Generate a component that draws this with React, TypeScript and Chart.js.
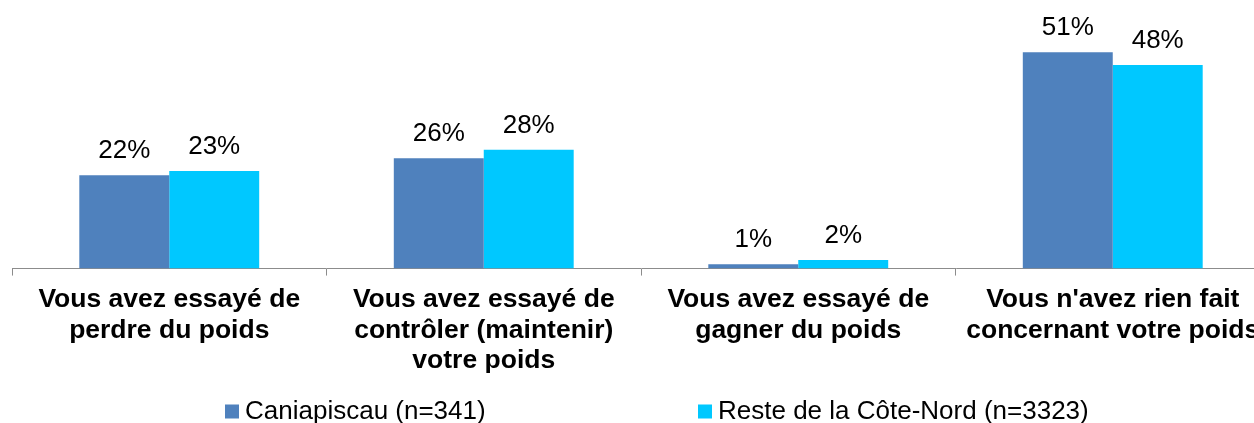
import React, { useEffect, useRef } from 'react';
import { Chart, registerables } from 'chart.js';
Chart.register(...registerables);

const categories: string[][] = [
  ['Vous avez essayé de', 'perdre du poids'],
  ['Vous avez essayé de', 'contrôler (maintenir)', 'votre poids'],
  ['Vous avez essayé de', 'gagner du poids'],
  ["Vous n'avez rien fait", 'concernant votre poids'],
];
const seriesNames = ['Caniapiscau (n=341)', 'Reste de la Côte-Nord (n=3323)'];
const caniapiscau = [22, 26, 1, 51];
const resteCoteNord = [23, 28, 2, 48];
const seriesColors = ['#4F81BD', '#00C8FF'];

const FONT = '"Liberation Sans", Arial, sans-serif';

const valueLabels = {
  id: 'valueLabels',
  afterDatasetsDraw(chart: any) {
    const ctx = chart.ctx;
    ctx.save();
    ctx.font = `26px ${FONT}`;
    ctx.fillStyle = '#000';
    ctx.textAlign = 'center';
    ctx.textBaseline = 'alphabetic';
    chart.data.datasets.forEach((ds: any, i: number) => {
      const meta = chart.getDatasetMeta(i);
      meta.data.forEach((el: any, j: number) => {
        ctx.fillText(ds.data[j] + '%', el.x, el.y - 17);
      });
    });
    ctx.restore();
  },
};

const customLegend = {
  id: 'customLegend',
  afterDraw(chart: any) {
    const ctx = chart.ctx;
    const starts = [225, 698];
    const baseline = 418.5;
    ctx.save();
    ctx.font = `26px ${FONT}`;
    ctx.textBaseline = 'alphabetic';
    ctx.textAlign = 'left';
    chart.data.datasets.forEach((ds: any, i: number) => {
      const x = starts[i];
      ctx.fillStyle = ds.backgroundColor;
      ctx.fillRect(x, baseline - 14, 14, 14);
      ctx.fillStyle = '#000';
      ctx.fillText(ds.label, x + 20, baseline);
    });
    ctx.restore();
  },
};

export default function App() {
  const ref = useRef<HTMLCanvasElement>(null);
  useEffect(() => {
    document.documentElement.style.overflow = 'hidden';
    document.body.style.overflow = 'hidden';
    if (!ref.current) return;
    const chart = new Chart(ref.current, {
      type: 'bar',
      data: {
        labels: categories,
        datasets: [
          { label: seriesNames[0], data: caniapiscau, backgroundColor: seriesColors[0] },
          { label: seriesNames[1], data: resteCoteNord, backgroundColor: seriesColors[1] },
        ],
      },
      options: {
        responsive: false,
        animation: false,
        layout: { padding: { left: 12, right: 10, top: 14, bottom: 38 } },
        datasets: { bar: { categoryPercentage: 0.572, barPercentage: 1 } },
        plugins: { legend: { display: false }, tooltip: { enabled: false } },
        scales: {
          y: { display: false, min: 0, max: 60 },
          x: {
            offset: true,
            grid: { display: true, drawOnChartArea: false, drawTicks: true, tickLength: 7, color: '#8c8c8c', offset: true },
            border: { display: true, color: '#8c8c8c', width: 1 },
            ticks: {
              font: { family: FONT, size: 26.5, weight: 'bold', lineHeight: 1.15 },
              color: '#000',
              padding: 9,
              maxRotation: 0,
              autoSkip: false,
            },
          },
        },
      } as any,
      plugins: [valueLabels, customLegend],
    });
    return () => chart.destroy();
  }, []);
  return (
    <div style={{ position: 'fixed', left: 0, top: 0, width: 1280, height: 423, overflow: 'hidden', background: '#fff' }}>
      <canvas ref={ref} width={1280} height={423} style={{ width: 1280, height: 423, display: 'block' }} />
    </div>
  );
}
